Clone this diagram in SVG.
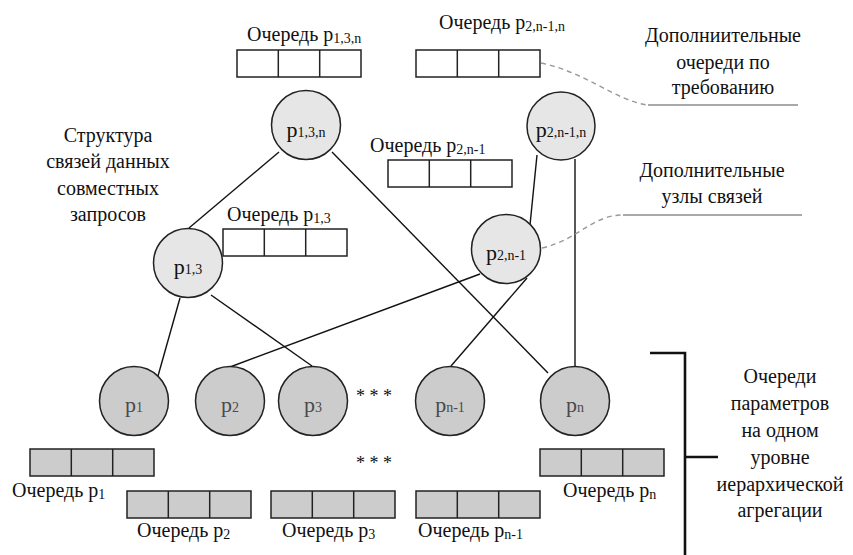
<svg xmlns="http://www.w3.org/2000/svg" width="853" height="555" viewBox="0 0 853 555">
<defs>
<g id="qw">
<rect x="0" y="0" width="124" height="27" fill="#fff" stroke="#222" stroke-width="1.5"/>
<line x1="41.3" y1="0" x2="41.3" y2="27" stroke="#222" stroke-width="1.5"/>
<line x1="82.7" y1="0" x2="82.7" y2="27" stroke="#222" stroke-width="1.5"/>
</g>
<g id="qg">
<rect x="0" y="0" width="124" height="27" fill="#cccccc" stroke="#222" stroke-width="1.5"/>
<line x1="41.3" y1="0" x2="41.3" y2="27" stroke="#222" stroke-width="1.5"/>
<line x1="82.7" y1="0" x2="82.7" y2="27" stroke="#222" stroke-width="1.5"/>
</g>
</defs>
<rect width="853" height="555" fill="#fff"/>

<g id="connectors" stroke="#111" stroke-width="1.4" fill="none">
<line x1="279" y1="152" x2="189" y2="228"/>
<line x1="332" y1="152" x2="548" y2="373"/>
<line x1="180" y1="298" x2="158" y2="376"/>
<line x1="211" y1="295" x2="312" y2="366"/>
<line x1="480" y1="274" x2="230" y2="367"/>
<line x1="527" y1="278" x2="451" y2="366"/>
<line x1="537" y1="155" x2="530" y2="225"/>
<line x1="575" y1="159" x2="575" y2="367"/>
<path d="M541,63 C585,72 615,100 647,105" stroke="#999" stroke-dasharray="5 4"/>
<path d="M542,248 C578,240 592,215 623,215" stroke="#999" stroke-dasharray="5 4"/>
</g>

<g id="top-nodes" fill="#e6e6e6" stroke="#222" stroke-width="1.5">
<g id="node-p13n"><circle cx="306" cy="125" r="34.5"/><text font-family="Liberation Serif" font-size="22" text-anchor="middle" fill="#111" stroke="none" x="306" y="137">p<tspan font-size="14">1,3,n</tspan></text></g>
<g id="node-p2n1n"><circle cx="561" cy="126" r="34"/><text font-family="Liberation Serif" font-size="22" text-anchor="middle" fill="#111" stroke="none" x="561" y="137">p<tspan font-size="14">2,n-1,n</tspan></text></g>
<g id="node-p13"><circle cx="188" cy="263" r="34.5"/><text font-family="Liberation Serif" font-size="22" text-anchor="middle" fill="#111" stroke="none" x="188" y="274">p<tspan font-size="14">1,3</tspan></text></g>
<g id="node-p2n1"><circle cx="506" cy="249" r="34.5"/><text font-family="Liberation Serif" font-size="22" text-anchor="middle" fill="#111" stroke="none" x="506" y="260">p<tspan font-size="14">2,n-1</tspan></text></g>
</g>

<g id="bottom-nodes" fill="#cccccc" stroke="#222" stroke-width="1.5">
<g id="node-p1"><circle cx="134" cy="401" r="34.5"/><text font-family="Liberation Serif" font-size="22" text-anchor="middle" fill="#4a4a4a" stroke="none" x="134" y="412">p<tspan font-size="14">1</tspan></text></g>
<g id="node-p2"><circle cx="230" cy="401" r="34.5"/><text font-family="Liberation Serif" font-size="22" text-anchor="middle" fill="#4a4a4a" stroke="none" x="230" y="412">p<tspan font-size="14">2</tspan></text></g>
<g id="node-p3"><circle cx="313" cy="401" r="34.5"/><text font-family="Liberation Serif" font-size="22" text-anchor="middle" fill="#4a4a4a" stroke="none" x="313" y="412">p<tspan font-size="14">3</tspan></text></g>
<g id="node-pn1"><circle cx="450" cy="401" r="34.5"/><text font-family="Liberation Serif" font-size="22" text-anchor="middle" fill="#4a4a4a" stroke="none" x="450" y="412">p<tspan font-size="14">n-1</tspan></text></g>
<g id="node-pn"><circle cx="575" cy="401" r="34.5"/><text font-family="Liberation Serif" font-size="22" text-anchor="middle" fill="#4a4a4a" stroke="none" x="575" y="412">p<tspan font-size="14">n</tspan></text></g>
</g>

<g id="queues" fill="#111">
<g id="queue-p13n"><use href="#qw" x="237" y="50"/><text font-family="Liberation Serif" font-size="20" x="247" y="41">Очередь p<tspan font-size="14" dy="2">1,3,n</tspan></text></g>
<g id="queue-p2n1n"><use href="#qw" x="416" y="50"/><text font-family="Liberation Serif" font-size="20" x="439" y="29">Очередь p<tspan font-size="14" dy="2">2,n-1,n</tspan></text></g>
<g id="queue-p2n1"><use href="#qw" x="388" y="160"/><text font-family="Liberation Serif" font-size="20" x="370" y="152">Очередь p<tspan font-size="14" dy="2">2,n-1</tspan></text></g>
<g id="queue-p13"><use href="#qw" x="223" y="229"/><text font-family="Liberation Serif" font-size="20" x="227" y="221">Очередь p<tspan font-size="14" dy="2">1,3</tspan></text></g>
<g id="queue-p1"><use href="#qg" x="30" y="449"/><text font-family="Liberation Serif" font-size="20" x="12" y="497">Очередь p<tspan font-size="14" dy="2">1</tspan></text></g>
<g id="queue-p2"><use href="#qg" x="127" y="491"/><text font-family="Liberation Serif" font-size="20" x="137" y="537">Очередь p<tspan font-size="14" dy="2">2</tspan></text></g>
<g id="queue-p3"><use href="#qg" x="271" y="491"/><text font-family="Liberation Serif" font-size="20" x="282" y="537">Очередь p<tspan font-size="14" dy="2">3</tspan></text></g>
<g id="queue-pn1"><use href="#qg" x="416" y="491"/><text font-family="Liberation Serif" font-size="20" x="418" y="537">Очередь p<tspan font-size="14" dy="2">n-1</tspan></text></g>
<g id="queue-pn"><use href="#qg" x="540" y="449"/><text font-family="Liberation Serif" font-size="20" x="563" y="497">Очередь p<tspan font-size="14" dy="2">n</tspan></text></g>
</g>

<g id="dots" fill="#111">
<text font-family="Liberation Serif" font-size="18" text-anchor="middle" x="374" y="402">* * *</text>
<text font-family="Liberation Serif" font-size="18" text-anchor="middle" x="374" y="469">* * *</text>
</g>

<g id="note-structure" fill="#111">
<text font-family="Liberation Serif" font-size="20" text-anchor="middle" x="108" y="142">Структура</text>
<text font-family="Liberation Serif" font-size="20" text-anchor="middle" x="108" y="168">связей данных</text>
<text font-family="Liberation Serif" font-size="20" text-anchor="middle" x="108" y="195">совместных</text>
<text font-family="Liberation Serif" font-size="20" text-anchor="middle" x="108" y="221">запросов</text>
</g>

<g id="note-extra-queues" fill="#111">
<text font-family="Liberation Serif" font-size="20" text-anchor="middle" x="723" y="42">Дополниительные</text>
<text font-family="Liberation Serif" font-size="20" text-anchor="middle" x="723" y="69">очереди по</text>
<text font-family="Liberation Serif" font-size="20" text-anchor="middle" x="723" y="94">требованию</text>
<line x1="648" y1="105" x2="798" y2="105" stroke="#555" stroke-width="1.2"/>
</g>

<g id="note-extra-nodes" fill="#111">
<text font-family="Liberation Serif" font-size="20" text-anchor="middle" x="712" y="177">Дополнительные</text>
<text font-family="Liberation Serif" font-size="20" text-anchor="middle" x="712" y="203">узлы связей</text>
<line x1="623" y1="215" x2="802" y2="215" stroke="#555" stroke-width="1.2"/>
</g>

<g id="bracket" fill="#111">
<path d="M650,353 H685 V555 M685,457 H718" fill="none" stroke="#111" stroke-width="2.6"/>
<text font-family="Liberation Serif" font-size="20" text-anchor="middle" x="780" y="383">Очереди</text>
<text font-family="Liberation Serif" font-size="20" text-anchor="middle" x="780" y="410">параметров</text>
<text font-family="Liberation Serif" font-size="20" text-anchor="middle" x="780" y="437">на одном</text>
<text font-family="Liberation Serif" font-size="20" text-anchor="middle" x="780" y="464">уровне</text>
<text font-family="Liberation Serif" font-size="20" text-anchor="middle" x="780" y="491">иерархической</text>
<text font-family="Liberation Serif" font-size="20" text-anchor="middle" x="780" y="517">агрегации</text>
</g>
</svg>
